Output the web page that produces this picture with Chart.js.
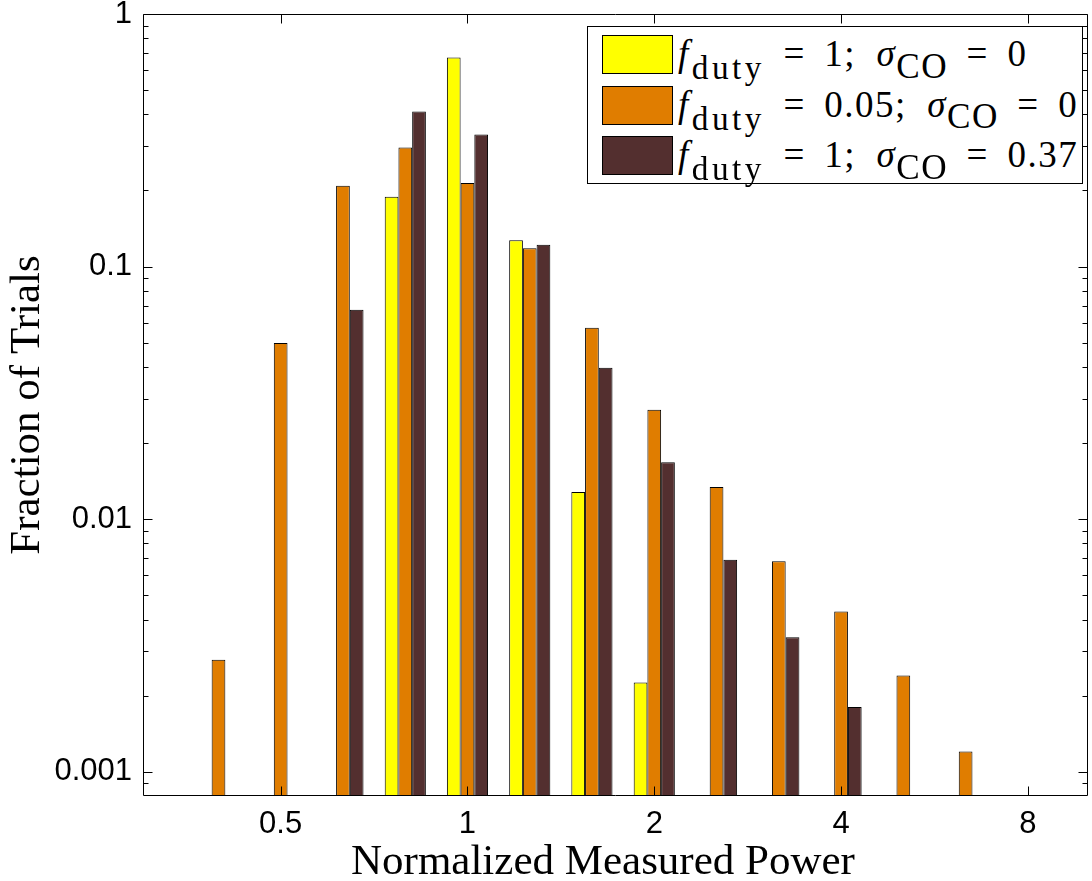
<!DOCTYPE html>
<html>
<head>
<meta charset="utf-8">
<title>Fraction of Trials vs Normalized Measured Power</title>
<script src="https://cdn.jsdelivr.net/npm/chart.js@4.4.1/dist/chart.umd.min.js"></script>
<style>
  html, body { margin: 0; padding: 0; background: #fff; }
  #wrap { position: relative; width: 1092px; height: 881px; }
  #chart { position: absolute; left: 0; top: 0; }

  /* legend box, drawn in HTML so the math labels stay text */
  #legend {
    position: absolute; left: 587px; top: 26px;
    width: 494px; height: 156px;
    border: 1px solid #000; background: #fff;
    font-family: "Liberation Serif", "Times New Roman", serif;
    font-size: 37px; color: #000;
  }
  .swatch { position: absolute; left: 14px; width: 69px; height: 37px; border: 1px solid #000; }
  .label  { position: absolute; left: 90px; line-height: 37px; white-space: nowrap; letter-spacing: 1.5px; }
  .label i { font-style: italic; }
  .sub-a { font-size: 0.9em; position: relative; top: 0.4em; margin-left: 2px; letter-spacing: 3.5px; }
  .sub-b { font-size: 0.95em; position: relative; top: 0.34em; }
  .op { margin: 0 0.5em; }
  .gap { margin-right: 0.55em; }
</style>
</head>
<body>
<div id="wrap">
  <canvas id="chart" width="1092" height="881"></canvas>
  <div id="legend"></div>
</div>

<script>
/* ── Data ───────────────────────────────────────────────────── */

// bin centres on the power axis (1/3-octave bins)
const binCenters = [0.397, 0.5, 0.63, 0.794, 1, 1.26, 1.587, 2, 2.52, 3.175, 4, 5.04, 6.35];

// fraction of trials per bin; null = empty bin
const dutyFull      = [null, null, null, 0.189, 0.672, 0.127, 0.0128, 0.00225, null, null, null, null, null];
const dutyLow       = [0.00277, 0.0498, 0.209, 0.296, 0.214, 0.118, 0.0572, 0.0271, 0.0134, 0.0068, 0.0043, 0.0024, 0.0012];
const dutyFullNoise = [null, null, 0.0674, 0.411, 0.333, 0.122, 0.0397, 0.0168, 0.0069, 0.0034, 0.0018, null, null];

const xTickValues = [0.5, 1, 2, 4, 8];
const yTickValues = [0.001, 0.01, 0.1, 1];

const seriesColors = ["#ffff00", "#e07d00", "#532f2f"];
const seriesLabels = [
  { duty: "1",    sigma: "0" },
  { duty: "0.05", sigma: "0" },
  { duty: "1",    sigma: "0.37" },
];

/* ── Helpers ────────────────────────────────────────────────── */

function toPoints(values) {
  return binCenters
    .map((x, i) => ({ x, y: values[i] }))
    .filter(p => p.y !== null);
}

const MAJOR = 9, MINOR = 5;

// MATLAB-style box with inward ticks on all four sides
const frameTicks = {
  id: "frameTicks",
  afterDatasetsDraw(chart) {
    const { ctx, chartArea: a, scales: { x, y } } = chart;
    const L = Math.round(a.left) + 0.5, R = Math.round(a.right) - 0.5;
    const T = Math.round(a.top) + 0.5,  B = Math.round(a.bottom) - 0.5;
    ctx.save();
    ctx.strokeStyle = "#000";
    ctx.lineWidth = 1;
    ctx.beginPath();

    xTickValues.forEach(v => {
      const px = Math.round(x.getPixelForValue(v)) + 0.5;
      ctx.moveTo(px, B); ctx.lineTo(px, B - MAJOR);
      ctx.moveTo(px, T); ctx.lineTo(px, T + MAJOR);
    });

    yTickValues.forEach(v => {
      const py = Math.round(y.getPixelForValue(v)) + 0.5;
      ctx.moveTo(L, py); ctx.lineTo(L + MAJOR, py);
      ctx.moveTo(R, py); ctx.lineTo(R - MAJOR, py);
    });

    [0.0001, 0.001, 0.01, 0.1].forEach(decade => {
      for (let m = 2; m <= 9; m++) {
        const v = m * decade;
        if (v <= y.min || v >= y.max) continue;
        const py = Math.round(y.getPixelForValue(v)) + 0.5;
        ctx.moveTo(L, py); ctx.lineTo(L + MINOR, py);
        ctx.moveTo(R, py); ctx.lineTo(R - MINOR, py);
      }
    });

    ctx.rect(L, T, R - L, B - T);
    ctx.stroke();
    ctx.restore();
  }
};

/* ── Chart ──────────────────────────────────────────────────── */

const seriesData = [dutyFull, dutyLow, dutyFullNoise];

new Chart(document.getElementById("chart"), {
  type: "bar",
  data: {
    datasets: seriesData.map((values, i) => ({
      label: `f_duty = ${seriesLabels[i].duty}; sigma_CO = ${seriesLabels[i].sigma}`,
      data: toPoints(values),
      backgroundColor: seriesColors[i],
      borderColor: "#000",
      borderWidth: 1,
      borderSkipped: "start",
      categoryPercentage: 0.662,
      barPercentage: 1,
    })),
  },
  options: {
    responsive: false,
    animation: false,
    devicePixelRatio: 1,
    layout: { padding: { top: 14, right: 4, left: 0, bottom: 0 } },
    plugins: { legend: { display: false }, tooltip: { enabled: false } },
    scales: {
      x: {
        type: "logarithmic",
        min: 0.3162,
        max: 10,
        offset: false,
        grid: { display: false, drawTicks: false },
        border: { display: false },
        afterBuildTicks: s => { s.ticks = xTickValues.map(v => ({ value: v })); },
        afterFit: s => { s.height = 85; s.paddingLeft = 0; s.paddingRight = 0; },
        ticks: {
          autoSkip: false, maxRotation: 0, padding: 10,
          color: "#000",
          font: { family: "'Liberation Sans', Arial, sans-serif", size: 31 },
          callback: v => String(v),
        },
        title: {
          display: true,
          // trailing en space nudges the centred label slightly left
          text: "Normalized Measured Power\u2002\u200a",
          color: "#000",
          font: { family: "'Liberation Serif', 'Times New Roman', serif", size: 43, lineHeight: 0.86 },
          padding: { top: 0, bottom: 0 },
        },
      },
      y: {
        type: "logarithmic",
        min: 0.0008,
        max: 1,
        grid: { display: false, drawTicks: false },
        border: { display: false },
        afterBuildTicks: s => { s.ticks = yTickValues.map(v => ({ value: v })); },
        afterFit: s => { s.width = 143; s.paddingTop = 0; s.paddingBottom = 0; },
        ticks: {
          autoSkip: false, padding: 11,
          color: "#000",
          font: { family: "'Liberation Sans', Arial, sans-serif", size: 31 },
          callback: v => String(v),
        },
        title: {
          display: true,
          text: "Fraction of Trials",
          color: "#000",
          font: { family: "'Liberation Serif', 'Times New Roman', serif", size: 43, lineHeight: 1.2 },
          padding: { top: 2, bottom: 0 },
        },
      },
    },
  },
  plugins: [frameTicks],
});

/* ── Legend ─────────────────────────────────────────────────── */

const legend = document.getElementById("legend");
legend.innerHTML = seriesLabels.map((s, i) => {
  const top = 8 + i * 50.5;
  return `<div class="swatch" style="top:${top}px;background:${seriesColors[i]}"></div>
    <div class="label" style="top:${top}px"><i>f</i><span class="sub-a">duty</span><span class="op">=</span><span class="gap">${s.duty};</span><i>σ</i><span class="sub-b">CO</span><span class="op">=</span>${s.sigma}</div>`;
}).join("");
</script>
</body>
</html>
